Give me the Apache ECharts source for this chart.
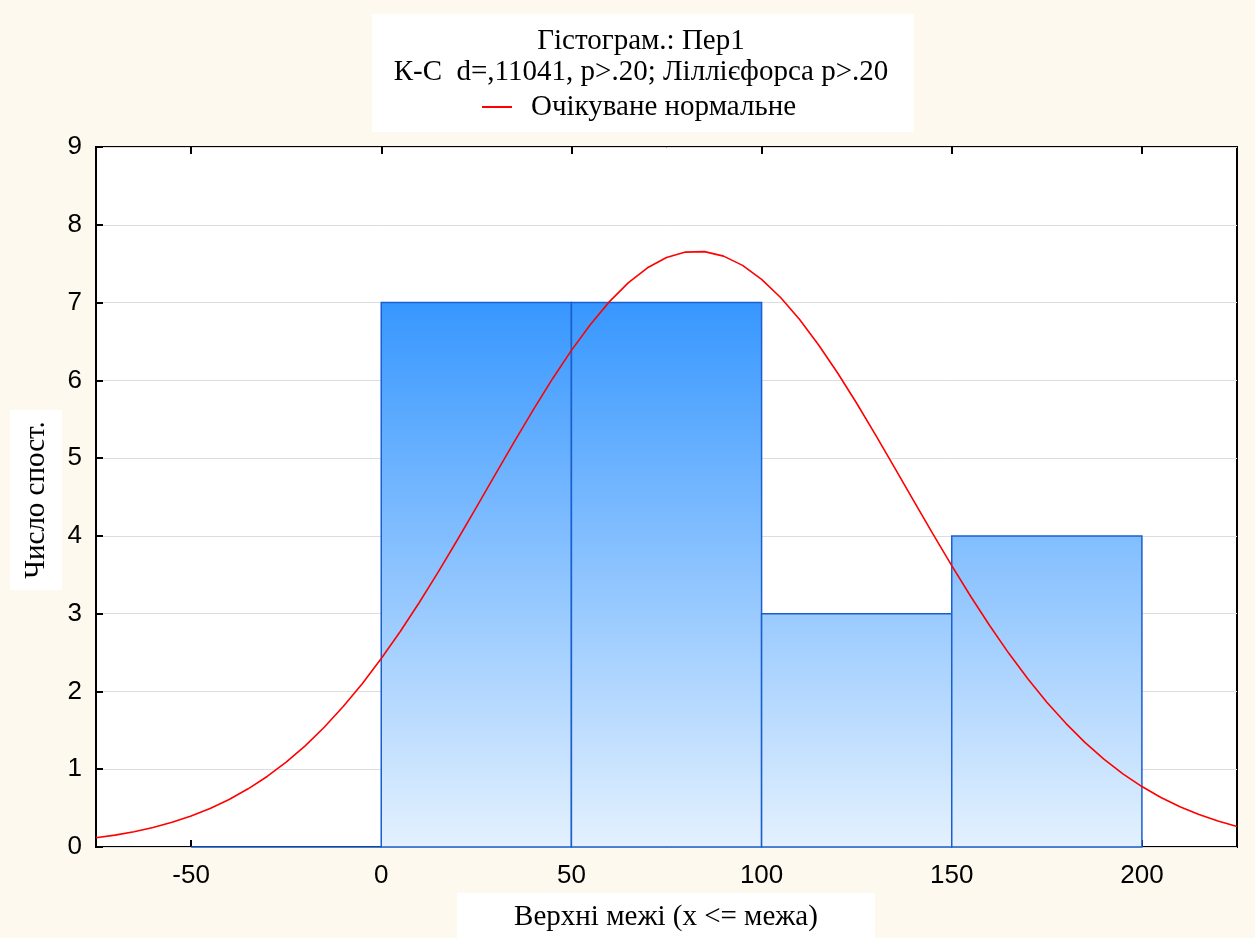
<!DOCTYPE html>
<html><head><meta charset="utf-8">
<script src="https://cdn.jsdelivr.net/npm/echarts@6/dist/echarts.min.js"></script>
<style>html,body{margin:0;padding:0;background:#FEF9EE;}#c{width:1255px;height:938px;}</style>
</head><body><div id="c"></div>
<script>
// Histogram bins (upper bounds scale) and counts
const binStart = [-50, 0, 50, 100, 150];
const binEnd = [0, 50, 100, 150, 200];
const counts = [0, 7, 7, 3, 4];
// Expected normal curve (every 5 units)
const curveX = [-75, -70, -65, -60, -55, -50, -45, -40, -35, -30, -25, -20, -15, -10, -5, 0, 5, 10, 15, 20, 25, 30, 35, 40, 45, 50, 55, 60, 65, 70, 75, 80, 85, 90, 95, 100, 105, 110, 115, 120, 125, 130, 135, 140, 145, 150, 155, 160, 165, 170, 175, 180, 185, 190, 195, 200, 205, 210, 215, 220, 225];
const curveY = [0.118, 0.153, 0.197, 0.251, 0.318, 0.398, 0.496, 0.611, 0.748, 0.907, 1.091, 1.301, 1.539, 1.806, 2.100, 2.423, 2.771, 3.144, 3.537, 3.947, 4.366, 4.791, 5.212, 5.624, 6.018, 6.385, 6.719, 7.012, 7.256, 7.447, 7.579, 7.649, 7.655, 7.597, 7.478, 7.299, 7.065, 6.781, 6.455, 6.094, 5.705, 5.296, 4.875, 4.451, 4.029, 3.618, 3.221, 2.844, 2.490, 2.162, 1.862, 1.590, 1.346, 1.131, 0.941, 0.777, 0.637, 0.517, 0.417, 0.333, 0.264];
const xTicks = [-50, 0, 50, 100, 150, 200];

const titleLine1 = 'Гістограм.: Пер1';
const titleLine2 = 'К-С  d=,11041, p>.20; Ліллієфорса p>.20';
const legendName = 'Очікуване нормальне';
const xName = 'Верхні межі (x <= межа)';
const yName = 'Число спост.';

const chart = echarts.init(document.getElementById('c'));
const serif = '"Liberation Serif", "Times New Roman", serif';
const sans = '"Liberation Sans", Arial, sans-serif';

const histData = binStart.map((s, i) => [s, binEnd[i], counts[i]]);
const curveData = curveX.map((x, i) => [x, curveY[i]]);

chart.setOption({
  backgroundColor: '#FEF9EE',
  animation: false,
  grid: { left: 96, right: 18, top: 147, bottom: 91, show: true, backgroundColor: '#fff', borderColor: '#000', borderWidth: 2 },
  graphic: [
    { type: 'rect', left: 372, top: 14, shape: { width: 542, height: 118 }, style: { fill: '#fff' }, z: 0 },
    { type: 'text', x: 641, y: 41, style: { text: titleLine1, font: '29px ' + serif, fill: '#000', align: 'center', verticalAlign: 'middle' }, z: 5 },
    { type: 'text', x: 641, y: 72, style: { text: titleLine2, font: '29px ' + serif, fill: '#000', align: 'center', verticalAlign: 'middle' }, z: 5 },
    { type: 'rect', left: 10, top: 410, shape: { width: 52, height: 180 }, style: { fill: '#fff' }, z: 0 },
    { type: 'text', x: 36, y: 500, rotation: Math.PI / 2, style: { text: yName, font: '29px ' + serif, fill: '#000', align: 'center', verticalAlign: 'middle' }, z: 5 },
    { type: 'rect', left: 457, top: 893, shape: { width: 418, height: 45 }, style: { fill: '#fff' }, z: 0 },
    { type: 'text', x: 666, y: 917, style: { text: xName, font: '29px ' + serif, fill: '#000', align: 'center', verticalAlign: 'middle' }, z: 5 }
  ],
  legend: {
    data: [legendName], left: 477, top: 87, itemWidth: 30, itemHeight: 2, itemGap: 10,
    icon: 'path://M0,0L30,0L30,2L0,2Z',
    textStyle: { fontFamily: serif, fontSize: 29, color: '#000', padding: [0, 0, 0, 14], lineHeight: 30 }
  },
  xAxis: [{
    type: 'value', min: -75, max: 225,
    axisLine: { show: false, onZero: false },
    axisTick: { show: true, inside: true, length: 7, customValues: xTicks, lineStyle: { color: '#000', width: 2 } },
    axisLabel: { customValues: xTicks, fontFamily: sans, fontSize: 26, color: '#000', margin: 16 },
    splitLine: { show: false }
  }, {
    type: 'value', min: -75, max: 225, position: 'top',
    axisLine: { show: false, onZero: false },
    axisTick: { show: true, inside: true, length: 7, customValues: xTicks, lineStyle: { color: '#000', width: 2 } },
    axisLabel: { show: false }, splitLine: { show: false }
  }],
  yAxis: {
    type: 'value', min: 0, max: 9, interval: 1,
    axisLine: { show: false, onZero: false },
    axisTick: { show: true, inside: true, length: 7, lineStyle: { color: '#000', width: 2 } },
    axisLabel: { fontFamily: sans, fontSize: 26, color: '#000', margin: 14 },
    splitLine: { show: true, lineStyle: { color: '#DDDDDD', width: 1 } }
  },
  series: [{
    type: 'custom',
    z: 2,
    data: histData,
    encode: { x: [0, 1], y: 2 },
    renderItem: function (params, api) {
      const p0 = api.coord([api.value(0), api.value(2)]);
      const p1 = api.coord([api.value(1), 0]);
      const top7 = api.coord([0, 7])[1];
      const bot = api.coord([0, 0])[1];
      return {
        type: 'rect',
        shape: { x: p0[0], y: p0[1], width: p1[0] - p0[0], height: p1[1] - p0[1] },
        style: {
          fill: new echarts.graphic.LinearGradient(0, top7, 0, bot, [
            { offset: 0, color: '#3797FF' },
            { offset: 1, color: '#E4F1FE' }
          ], true),
          stroke: '#1A5FD0', lineWidth: 1.5
        }
      };
    }
  }, {
    name: legendName,
    type: 'line', z: 3,
    data: curveData, smooth: false, symbol: 'none',
    lineStyle: { color: '#FF0000', width: 1.6 },
    itemStyle: { color: '#FF0000' }
  }]
});
</script></body></html>
